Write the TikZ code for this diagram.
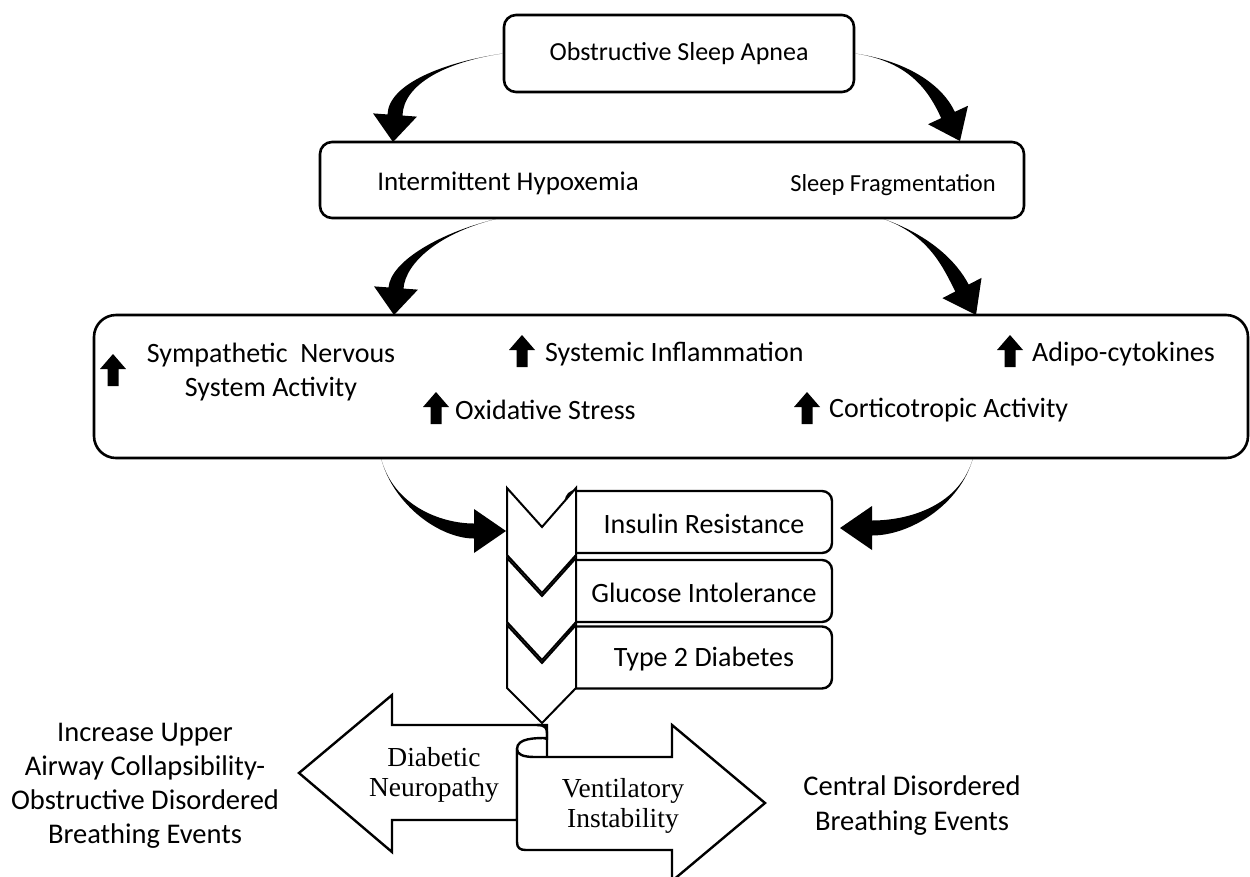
\documentclass[tikz,border=0pt]{standalone}
\usepackage{fontspec}
\setmainfont{Carlito}
\newfontfamily\serifA{Liberation Serif}
\usetikzlibrary{calc}
\newcommand\tarrow[5]{%
 \coordinate (tA) at #5;
 \coordinate (hB) at #4;
 \coordinate (hbL) at ($(hB)!7.5pt!90:(tA)$);
 \coordinate (hbR) at ($(hB)!7.5pt!-90:(tA)$);
 \coordinate (hL) at ($(hB)!22pt!90:(tA)$);
 \coordinate (hR) at ($(hB)!22pt!-90:(tA)$);
 \fill #1 .. controls #2 and ($#3+(hbL)-(hB)$) .. (hbL) -- (hL) -- (tA) -- (hR) -- (hbR) .. controls ($#3+(hbR)-(hB)$) and #2 .. #1 -- cycle;
}
\tikzset{
  box/.style={draw, line width=2.6pt, rounded corners=12pt, fill=white, inner sep=0pt},
  txt/.style={font=\fontsize{28}{34}\selectfont, inner sep=0pt, align=center},
  stxt/.style={font=\serifA\fontsize{27.5}{29.5}\selectfont, inner sep=0pt, align=center},
  cbox/.style={draw, line width=2.4pt, rounded corners=10pt, fill=white, minimum width=266pt, minimum height=62pt, inner sep=0pt},
  chev/.style={draw, line width=2pt, fill=white, line join=miter},
  barrow/.style={draw, line width=2.4pt, fill=white, line join=miter},
  uparr/.pic={\fill (-5.5,0) -- (-5.5,-17) -- (-13,-17) -- (0,-32) -- (13,-17) -- (5.5,-17) -- (5.5,0) -- cycle;}
}
\begin{document}
\begin{tikzpicture}[x=1pt,y=-1pt]
\useasboundingbox[fill=white] (0,0) rectangle (1250,876);

% top box
\node[box, minimum width=350pt, minimum height=77pt, font=\fontsize{26}{31}\selectfont] (osa) at (679,53.5) {Obstructive Sleep Apnea};
% second box
\node[box, minimum width=704pt, minimum height=76pt] (frag) at (672,180) {};
\node[txt, font=\fontsize{27}{32}\selectfont] (ih) at (508,183) {Intermittent Hypoxemia};
\node[txt, font=\fontsize{24.5}{30}\selectfont] (sf) at (893,185) {Sleep Fragmentation};
% third box
\node[box, rounded corners=22pt, minimum width=1154pt, minimum height=143pt] (mech) at (671,386.5) {};
\node[txt] (sns) at (271,372) {Sympathetic\ \ Nervous\\System Activity};
\node[txt, anchor=west] (si) at (545,354) {Systemic Inflammation};
\node[txt, anchor=west] (ac) at (1032,354) {Adipo-cytokines};
\node[txt, anchor=west] (os) at (455,410) {Oxidative Stress};
\node[txt, anchor=west] (ca) at (829,410) {Corticotropic Activity};
\pic at (113,386) {uparr};
\pic at (522,367) {uparr};
\pic at (1010,367) {uparr};
\pic at (436,424) {uparr};
\pic at (807,424) {uparr};

% chevron boxes
\node[cbox] (ir) at (699,522) {};
\node[cbox] (gi) at (699,591) {};
\node[cbox] (t2) at (699,657.5) {};
\draw[chev] (507,488) -- (542,527) -- (576,488) -- (576,555) -- (542,593) -- (507,555) -- cycle;
\draw[chev] (507,558) -- (542,596) -- (576,558) -- (576,622) -- (542,660) -- (507,622) -- cycle;
\draw[chev] (507,625) -- (542,663) -- (576,625) -- (576,688) -- (542,723) -- (507,688) -- cycle;
\node[txt] at (704,524) {Insulin Resistance};
\node[txt] at (704,593) {Glucose Intolerance};
\node[txt] at (704,659) {Type 2 Diabetes};

% curved arrows
\coordinate (a1t) at (osa.west);
\coordinate (a2t) at (osa.east);
\coordinate (a3t) at (500,218);
\coordinate (a4t) at (881,218);
\coordinate (a5t) at (381,458);
\coordinate (a6t) at (973,458);
\tarrow{(a1t)}{(445,62)}{(396,84)}{(395,115)}{(393,142)}
\tarrow{(a2t)}{(912,62)}{(937,91)}{(948,115)}{(960,141)}
\tarrow{(a3t)}{(440,232)}{(398,262)}{(396,288)}{(394,315)}
\tarrow{(a4t)}{(930,235)}{(950,265)}{(962,288)}{(976,315)}
\tarrow{(a5t)}{(393,505)}{(440,531)}{(474,531)}{(506,531)}
\tarrow{(a6t)}{(960,505)}{(910,528)}{(872,528)}{(840,528)}

% bottom arrows
\draw[barrow] (537,725) -- (392,725) -- (392,695) -- (299,773) -- (392,852) -- (392,820) -- (517,820) -- (517,749) -- (547,740) -- (547,725) -- cycle;
\fill[white] (517,740) rectangle (549,757);
\draw[barrow] (517,749) -- (517,842) .. controls (517,848) and (520,850) .. (526,850) -- (672,850) -- (672,881) -- (765,803) -- (672,725) -- (672,757) -- (535,757) .. controls (522,757) and (517,754) .. (517,749);
\draw[line width=2.4pt] (537,725) .. controls (545,725) and (547,728) .. (547,733) -- (547,757);
\draw[line width=2.4pt] (547,738) .. controls (535,738) and (517,738) .. (517,749);
\node[stxt] (dn) at (434,775) {Diabetic\\Neuropathy};
\node[stxt] (vi) at (623,806) {Ventilatory\\Instability};

\node[txt, font=\fontsize{28.5}{34}\selectfont] (uaw) at (145,786) {Increase Upper\\Airway Collapsibility-\\Obstructive Disordered\\Breathing Events};
\node[txt, font=\fontsize{28.5}{35}\selectfont] (cdb) at (912,806) {Central Disordered\\Breathing Events};
\end{tikzpicture}
\end{document}
